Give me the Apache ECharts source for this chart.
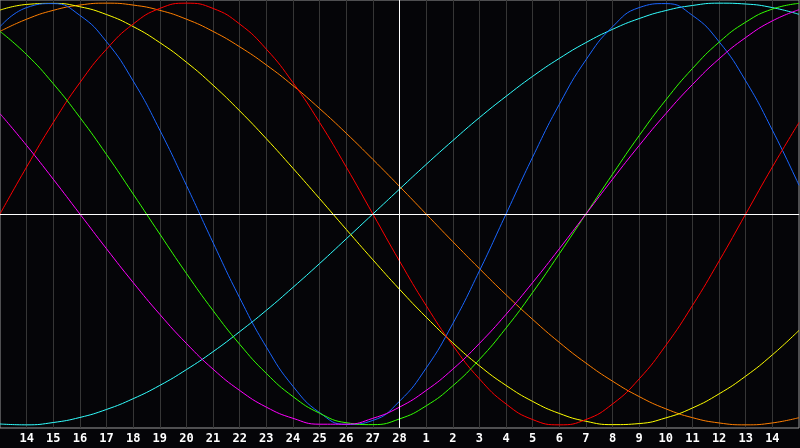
<!DOCTYPE html>
<html>
<head>
<meta charset="utf-8">
<title>Biorhythm</title>
<script src="https://cdn.jsdelivr.net/npm/echarts@6/dist/echarts.min.js"></script>
<style>
  html, body { margin: 0; padding: 0; background: #050508; }
  #chart { width: 800px; height: 448px; }
</style>
</head>
<body>
<div id="chart"></div>
<script>
// day labels, one per day (first and last sit on the frame edges)
var days = ['13', '14', '15', '16', '17', '18', '19', '20', '21', '22', '23', '24', '25', '26', '27', '28',
	'1', '2', '3', '4', '5', '6', '7', '8', '9', '10', '11', '12', '13', '14', '15'];
var todayIndex = 15;

// values, one per day
var physical = [0.888, 0.979, 0.998, 0.942, 0.817, 0.631, 0.398, 0.136, -0.136, -0.398, -0.631, -0.817, -0.942, -0.998, -0.979, -0.888,
	-0.731, -0.520, -0.270, 0.000, 0.270, 0.520, 0.731, 0.888, 0.979, 0.998, 0.942, 0.817, 0.631, 0.398, 0.136];
var emotional = [0.000, 0.223, 0.434, 0.623, 0.782, 0.901, 0.975, 1.000, 0.975, 0.901, 0.782, 0.623, 0.434, 0.223, 0.000, -0.223,
	-0.434, -0.623, -0.782, -0.901, -0.975, -1.000, -0.975, -0.901, -0.782, -0.623, -0.434, -0.223, 0.000, 0.223, 0.434];
var intellectual = [0.866, 0.756, 0.618, 0.458, 0.282, 0.095, -0.095, -0.282, -0.458, -0.618, -0.756, -0.866, -0.945, -0.990, -0.999, -0.972,
	-0.910, -0.815, -0.690, -0.541, -0.372, -0.189, 0.000, 0.189, 0.372, 0.541, 0.690, 0.815, 0.910, 0.972, 0.999];
var intuitive = [0.476, 0.325, 0.165, 0.000, -0.165, -0.325, -0.476, -0.614, -0.736, -0.837, -0.916, -0.969, -0.997, -0.997, -0.969, -0.916,
	-0.837, -0.736, -0.614, -0.476, -0.325, -0.165, 0.000, 0.165, 0.325, 0.476, 0.614, 0.736, 0.837, 0.916, 0.969];
var aesthetic = [0.967, 0.994, 0.999, 0.983, 0.946, 0.889, 0.813, 0.720, 0.611, 0.489, 0.357, 0.217, 0.073, -0.073, -0.217, -0.357,
	-0.489, -0.611, -0.720, -0.813, -0.889, -0.946, -0.983, -0.999, -0.994, -0.967, -0.920, -0.853, -0.769, -0.668, -0.552];
var awareness = [0.866, 0.924, 0.966, 0.991, 1.000, 0.991, 0.966, 0.924, 0.866, 0.793, 0.707, 0.609, 0.500, 0.383, 0.259, 0.131,
	0.000, -0.131, -0.259, -0.383, -0.500, -0.609, -0.707, -0.793, -0.866, -0.924, -0.966, -0.991, -1.000, -0.991, -0.966];
var spiritual = [-0.996, -1.000, -0.989, -0.965, -0.927, -0.876, -0.813, -0.738, -0.653, -0.558, -0.457, -0.348, -0.235, -0.118, 0.000, 0.118,
	0.235, 0.348, 0.457, 0.558, 0.653, 0.738, 0.813, 0.876, 0.927, 0.965, 0.989, 1.000, 0.996, 0.979, 0.947];

function curve(name, data, color) {
	return {
		name : name,
		type : 'line',
		data : data,
		smooth : 0.5,
		symbol : 'none',
		silent : true,
		lineStyle : {
			color : color,
			width : 1
		}
	};
}

var chart = echarts.init(document.getElementById('chart'));
var series = [
	curve('spiritual', spiritual, '#33ffff'),
	curve('awareness', awareness, '#ff7f00'),
	curve('aesthetic', aesthetic, '#ffff00'),
	curve('physical', physical, '#1a66ff'),
	curve('emotional', emotional, '#ff0000'),
	curve('intellectual', intellectual, '#33ff00'),
	curve('intuitive', intuitive, '#ff00ff')
];
// white cross: zero line and today
series[0].markLine = {
	silent : true,
	symbol : 'none',
	label : { show : false },
	lineStyle : { color : '#ffffff', width : 1, type : 'solid' },
	data : [{ yAxis : 0 }, { xAxis : todayIndex }]
};

chart.setOption({
	backgroundColor : '#050508',
	animation : false,
	grid : {
		left : 0,
		right : 1,
		top : 0,
		bottom : 20,
		show : true,
		borderColor : '#9a9a9a',
		borderWidth : 1
	},
	xAxis : {
		type : 'category',
		data : days,
		boundaryGap : false,
		axisLine : { show : true, lineStyle : { color : '#9a9a9a' } },
		axisTick : { show : false },
		splitLine : { show : true, lineStyle : { color : '#363636', width : 1 } },
		axisLabel : {
			interval : function(idx) {
				return idx > 0 && idx < days.length - 1;
			},
			color : '#ffffff',
			fontFamily : 'DejaVu Sans Mono',
			fontWeight : 'bold',
			fontSize : 12,
			margin : 5
		}
	},
	yAxis : {
		type : 'value',
		min : -1.015,
		max : 1.015,
		axisLine : { show : false },
		axisTick : { show : false },
		axisLabel : { show : false },
		splitLine : { show : false }
	},
	series : series
});
</script>
</body>
</html>
